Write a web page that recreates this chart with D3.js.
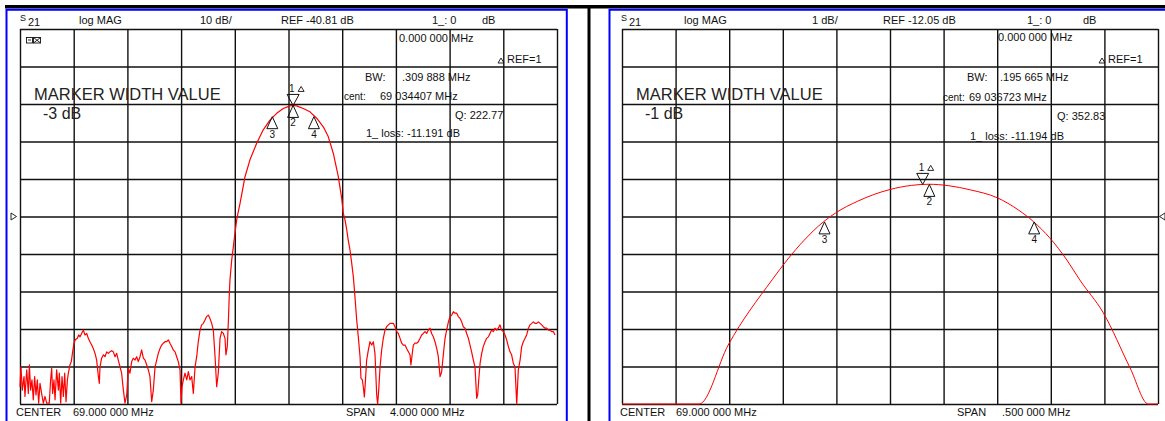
<!DOCTYPE html>
<html>
<head>
<meta charset="utf-8">
<script src="https://cdn.jsdelivr.net/npm/d3@7"></script>
<style>
  body { margin: 0; background: #fff; }
  text { font-family: "Liberation Sans", Arial, sans-serif; fill: #111; }
</style>
</head>
<body>
<div id="chart"></div>
<script>
// ---- dati ----
// pannello sinistro: S21, 10 dB/div, centro 69 MHz, span 4 MHz
const leftFreq = [
  67.000, 67.007, 67.017, 67.030, 67.037, 67.050, 67.062, 67.070, 67.079, 67.089,
  67.099, 67.109, 67.119, 67.129, 67.139, 67.149, 67.161, 67.174, 67.186, 67.199,
  67.218, 67.228, 67.236, 67.243, 67.253, 67.261, 67.273, 67.286, 67.293, 67.303,
  67.313, 67.323, 67.333, 67.343, 67.353, 67.360, 67.372, 67.382, 67.392, 67.402,
  67.412, 67.427, 67.437, 67.447, 67.459, 67.472, 67.484, 67.497, 67.509, 67.521,
  67.534, 67.546, 67.559, 67.571, 67.584, 67.591, 67.596, 67.608, 67.621, 67.633,
  67.646, 67.658, 67.670, 67.683, 67.695, 67.708, 67.720, 67.732, 67.745, 67.757,
  67.770, 67.782, 67.795, 67.807, 67.819, 67.832, 67.844, 67.857, 67.869, 67.881,
  67.894, 67.906, 67.919, 67.931, 67.944, 67.956, 67.968, 67.981, 67.993, 68.006,
  68.018, 68.030, 68.043, 68.055, 68.068, 68.080, 68.093, 68.105, 68.117, 68.130,
  68.142, 68.155, 68.167, 68.179, 68.192, 68.199, 68.207, 68.217, 68.229, 68.242,
  68.254, 68.266, 68.279, 68.291, 68.304, 68.316, 68.328, 68.341, 68.353, 68.366,
  68.378, 68.390, 68.403, 68.415, 68.428, 68.440, 68.453, 68.465, 68.477, 68.490,
  68.502, 68.515, 68.527, 68.534, 68.544, 68.552, 68.559, 68.564, 68.577, 68.589,
  68.601, 68.614, 68.626, 68.639, 68.676, 68.713, 68.763, 68.812, 68.862, 68.912,
  68.961, 69.011, 69.034, 69.061, 69.110, 69.160, 69.210, 69.259, 69.296, 69.334,
  69.371, 69.396, 69.408, 69.421, 69.434, 69.445, 69.458, 69.471, 69.483, 69.495,
  69.508, 69.520, 69.533, 69.540, 69.550, 69.557, 69.565, 69.572, 69.582, 69.595,
  69.607, 69.620, 69.632, 69.644, 69.657, 69.664, 69.672, 69.682, 69.694, 69.706,
  69.719, 69.731, 69.744, 69.756, 69.781, 69.793, 69.806, 69.818, 69.831, 69.843,
  69.855, 69.868, 69.880, 69.893, 69.905, 69.912, 69.925, 69.930, 69.942, 69.955,
  69.967, 69.980, 69.992, 70.004, 70.017, 70.029, 70.042, 70.054, 70.066, 70.079,
  70.091, 70.104, 70.116, 70.129, 70.141, 70.153, 70.166, 70.178, 70.191, 70.203,
  70.216, 70.228, 70.240, 70.253, 70.265, 70.278, 70.290, 70.302, 70.315, 70.327,
  70.340, 70.352, 70.364, 70.377, 70.389, 70.402, 70.409, 70.417, 70.427, 70.439,
  70.451, 70.464, 70.476, 70.489, 70.501, 70.513, 70.526, 70.538, 70.551, 70.563,
  70.575, 70.588, 70.600, 70.613, 70.625, 70.638, 70.650, 70.662, 70.675, 70.687,
  70.700, 70.712, 70.725, 70.737, 70.749, 70.762, 70.774, 70.787, 70.799, 70.812,
  70.824, 70.836, 70.849, 70.861, 70.874, 70.886, 70.898, 70.911, 70.923, 70.936,
  70.948, 70.960, 70.973, 70.985
];
const leftDb = [
  -86.2, -80.9, -87.1, -83.5, -88.8, -81.7, -88.0, -80.4, -87.1, -84.4,
  -89.7, -83.5, -88.4, -84.4, -90.6, -85.3, -88.0, -90.6, -88.8, -90.6,
  -90.6, -84.4, -81.3, -88.0, -84.4, -89.7, -81.7, -87.1, -82.6, -90.6,
  -83.5, -88.8, -82.6, -90.2, -84.4, -82.6, -80.4, -79.5, -76.9, -74.6,
  -73.7, -73.3, -72.4, -72.9, -72.0, -71.1, -72.4, -72.0, -73.3, -74.2,
  -75.1, -76.0, -77.3, -79.1, -83.5, -85.3, -80.9, -78.6, -77.7, -78.2,
  -76.9, -77.3, -76.9, -76.6, -76.9, -78.2, -77.3, -79.1, -80.9, -82.6,
  -87.1, -90.6, -88.4, -81.3, -82.6, -79.5, -78.6, -79.1, -78.2, -79.5,
  -78.2, -76.4, -78.6, -79.1, -80.4, -81.7, -83.5, -90.2, -87.1, -80.9,
  -79.1, -77.3, -76.0, -75.1, -74.6, -74.2, -74.2, -73.7, -74.6, -75.5,
  -76.4, -76.9, -78.2, -79.5, -81.7, -90.6, -86.2, -84.4, -82.6, -84.4,
  -82.2, -84.4, -83.5, -88.0, -80.9, -78.2, -74.2, -71.1, -69.7, -69.3,
  -68.4, -67.5, -67.1, -68.0, -69.3, -71.1, -78.2, -86.2, -82.6, -73.3,
  -71.5, -72.0, -73.3, -77.7, -75.5, -68.9, -61.7, -57.7, -52.4, -48.9,
  -45.3, -41.7, -39.5, -37.3, -30.2, -25.7, -21.3, -17.7, -15.1, -13.3,
  -12.0, -11.3, -11.19, -11.3, -12.0, -12.9, -14.6, -16.9, -19.5, -24.0,
  -30.2, -35.9, -40.0, -41.7, -44.4, -47.1, -49.7, -53.3, -56.9, -62.2,
  -68.4, -72.9, -78.2, -84.0, -84.4, -86.2, -88.9, -85.3, -79.1, -76.4,
  -74.2, -75.1, -74.2, -77.3, -88.4, -91.1, -87.1, -80.9, -76.4, -73.3,
  -71.1, -70.2, -69.7, -69.3, -69.3, -70.2, -71.5, -72.0, -73.3, -74.6,
  -75.1, -75.1, -76.0, -76.9, -77.7, -80.4, -76.4, -75.1, -74.6, -74.6,
  -74.2, -73.3, -72.4, -72.0, -71.5, -72.0, -71.1, -70.6, -72.0, -72.9,
  -74.2, -76.0, -78.2, -83.5, -82.2, -77.7, -73.3, -71.1, -68.9, -67.5,
  -67.1, -66.2, -66.6, -66.6, -67.5, -68.0, -68.9, -70.2, -70.6, -72.0,
  -73.3, -75.1, -76.9, -79.1, -80.9, -89.3, -88.4, -84.4, -80.0, -77.3,
  -75.5, -74.2, -73.3, -72.9, -72.0, -71.1, -71.5, -70.6, -71.1, -70.6,
  -69.7, -71.1, -71.5, -72.4, -73.7, -75.5, -76.9, -77.7, -80.0, -80.9,
  -91.1, -81.7, -79.1, -75.5, -74.2, -73.3, -72.4, -70.6, -69.7, -69.3,
  -68.9, -69.3, -69.3, -68.9, -69.3, -69.7, -70.2, -70.6, -70.6, -71.1,
  -71.1, -71.5, -71.5, -72.4
];

// pannello destro: S21, 1 dB/div, centro 69 MHz, span 0.5 MHz
const rightFreq = [68.750, 68.800, 68.822, 68.849, 68.890, 68.904, 68.920, 68.938, 68.949, 68.970,
  69.000, 69.020, 69.036, 69.055, 69.075, 69.100, 69.120, 69.134, 69.149, 69.165, 69.177,
  69.199, 69.224, 69.241, 69.250];
const rightDb = [-17.6, -17.3, -17.05, -15.48, -13.74, -13.21, -12.68, -12.19, -11.96, -11.64,
  -11.33, -11.22, -11.19, -11.23, -11.34, -11.55, -11.88, -12.19, -12.62, -13.21, -13.74,
  -14.62, -16.09, -17.05, -17.4];

// marker: [numero, freq MHz, dB, direzione]
const leftMarkers = [[1, 69.0344, -11.191, 'down'], [2, 69.0344, -11.191, 'up'],
  [3, 68.8794, -14.191, 'up'], [4, 69.1893, -14.191, 'up']];
const rightMarkers = [[1, 69.0305, -11.194, 'down'], [2, 69.0367, -11.194, 'up'],
  [3, 68.9389, -12.194, 'up'], [4, 69.1345, -12.194, 'up']];

// testi
const leftHeader = ['log MAG', '10 dB/', 'REF -40.81 dB', '1_: 0', 'dB'];
const rightHeader = ['log MAG', '1 dB/', 'REF -12.05 dB', '1_: 0', 'dB'];
const leftInfo = ['0.000 000 MHz', 'REF=1', 'BW:', '.309 888 MHz', 'cent:', '69 034407 MHz', 'Q: 222.77', '1_ loss: -11.191 dB'];
const rightInfo = ['0.000 000 MHz', 'REF=1', 'BW:', '.195 665 MHz', 'cent:', '69 036723 MHz', 'Q: 352.83', '1_ loss: -11.194 dB'];
const leftFooter = ['CENTER', '69.000 000 MHz', 'SPAN', '4.000 000 MHz'];
const rightFooter = ['CENTER', '69.000 000 MHz', 'SPAN', '.500 000 MHz'];
const leftWidth = '-3 dB';
const rightWidth = '-1 dB';

const W = 1165, H = 421;
const svg = d3.select('#chart').append('svg')
    .attr('width', W)
    .attr('height', H);

// cornice: banda nera in alto, divisore centrale, bordi blu
svg.append('rect').attr('x', 5).attr('y', 5).attr('width', W - 5).attr('height', 3.5).attr('fill', '#000');
svg.append('rect').attr('x', 587.5).attr('y', 5).attr('width', 3).attr('height', H - 5).attr('fill', '#000');
svg.append('path').attr('d', `M6.5,${H} V9.8 H566.8 V${H}`)
    .attr('fill', 'none').attr('stroke', '#0000ff').attr('stroke-width', 2);
svg.append('path').attr('d', `M609.5,${H} V9.8 H${W}`)
    .attr('fill', 'none').attr('stroke', '#0000ff').attr('stroke-width', 2);

function drawPanel(p) {
    const x = d3.scaleLinear().domain(p.fDomain).range([p.x0, p.x1]);
    const y = d3.scaleLinear().domain(p.dbDomain).range([404, 29]).clamp(true);
    const g = svg.append('g');

    // griglia 10x10 tramite assi
    const fStep = (p.fDomain[1] - p.fDomain[0]) / 10;
    const dbStep = (p.dbDomain[1] - p.dbDomain[0]) / 10;
    g.append('g')
        .attr('transform', 'translate(0,404)')
        .call(d3.axisBottom(x).tickValues(d3.range(11).map(i => p.fDomain[0] + i * fStep))
            .tickSize(-375).tickFormat(''))
        .call(a => a.select('.domain').remove())
        .call(a => a.selectAll('line').attr('stroke', '#111').attr('stroke-width', 1.4));
    g.append('g')
        .attr('transform', `translate(${p.x0},0)`)
        .call(d3.axisLeft(y).tickValues(d3.range(11).map(i => p.dbDomain[0] + i * dbStep))
            .tickSize(-(p.x1 - p.x0)).tickFormat(''))
        .call(a => a.select('.domain').remove())
        .call(a => a.selectAll('line').attr('stroke', '#111').attr('stroke-width', 1.4));

    // intestazione
    const hx = p.headerX;
    g.append('text').attr('x', hx[0]).attr('y', 21).style('font-size', '9px').text('S');
    g.append('text').attr('x', hx[0] + 8).attr('y', 26).style('font-size', '11px').text('21');
    p.header.forEach((t, i) => {
        g.append('text').attr('x', hx[i + 1]).attr('y', 23.5).style('font-size', '11px').text(t);
    });

    // informazioni marker
    p.info.forEach((t, i) => {
        g.append('text').attr('x', p.infoPos[i][0]).attr('y', p.infoPos[i][1])
            .style('font-size', t === 'cent:' ? '10px' : '11px').text(t);
    });
    const rx = p.infoPos[1][0] - 9, ry = p.infoPos[1][1];
    g.append('path').attr('d', `M${rx},${ry} l3,-5 l3,5 Z`)
        .attr('fill', 'none').attr('stroke', '#111').attr('stroke-width', 0.9);

    g.append('text').attr('x', p.mwX).attr('y', 100)
        .style('font-size', '16.5px').style('fill', '#222').text('MARKER WIDTH VALUE');
    g.append('text').attr('x', p.mwX + 9).attr('y', 118.5)
        .style('font-size', '16px').style('fill', '#222').text(p.widthLabel);

    // piede
    p.footer.forEach((t, i) => {
        g.append('text').attr('x', p.footerX[i]).attr('y', 416).style('font-size', '11px').text(t);
    });

    // traccia
    const pts = p.freq.map((f, i) => [f, p.db[i]]);
    const line = d3.line().x(d => x(d[0])).y(d => y(d[1]));
    if (p.smooth) line.curve(d3.curveMonotoneX);
    g.append('path').datum(pts)
        .attr('d', line)
        .attr('fill', 'none')
        .attr('stroke', '#ff0000')
        .attr('stroke-width', p.smooth ? 1 : 1.2)
        .attr('stroke-linejoin', 'round');

    // marker triangolari
    p.markers.forEach(m => {
        const mx = x(m[1]), my = y(m[2]);
        if (m[3] === 'down') {
            g.append('path').attr('d', `M${mx},${my} l-6,-11 h12 Z`)
                .attr('fill', 'none').attr('stroke', '#111').attr('stroke-width', 1);
            g.append('text').attr('x', mx - 4).attr('y', my - 13).style('font-size', '10px').text(m[0]);
            g.append('path').attr('d', `M${mx + 5},${my - 14} l3,-5 l3,5 Z`)
                .attr('fill', 'none').attr('stroke', '#111').attr('stroke-width', 0.9);
        } else {
            g.append('path').attr('d', `M${mx},${my} l-5.5,12 h11 Z`)
                .attr('fill', 'none').attr('stroke', '#111').attr('stroke-width', 1);
            g.append('text').attr('x', mx).attr('y', my + 21).attr('text-anchor', 'middle')
                .style('font-size', '10px').text(m[0]);
        }
    });

    // indicatore di riferimento sul bordo
    const ry2 = y((p.dbDomain[0] + p.dbDomain[1]) / 2);
    const tri = p.refSide === 'left'
        ? `M11,${ry2 - 3.5} l5.5,3.5 l-5.5,3.5 Z`
        : `M1165,${ry2 - 3.5} l-5.5,3.5 l5.5,3.5 Z`;
    g.append('path').attr('d', tri).attr('fill', 'none').attr('stroke', '#111').attr('stroke-width', 0.9);
}

drawPanel({
    x0: 20, x1: 557,
    fDomain: [67, 71], dbDomain: [-90.81, 9.19],
    freq: leftFreq, db: leftDb, smooth: false,
    markers: leftMarkers,
    header: leftHeader, headerX: [20, 79, 200, 281, 432, 482],
    info: leftInfo,
    infoPos: [[399, 41.5], [507, 63], [365, 80.5], [402, 80.5], [344, 100], [380, 100], [455, 119], [366, 137]],
    mwX: 34, widthLabel: leftWidth,
    footer: leftFooter, footerX: [16, 73, 346, 390],
    refSide: 'left'
});

drawPanel({
    x0: 622, x1: 1158,
    fDomain: [68.75, 69.25], dbDomain: [-17.05, -7.05],
    freq: rightFreq, db: rightDb, smooth: true,
    markers: rightMarkers,
    header: rightHeader, headerX: [621, 684, 812, 883, 1027, 1083],
    info: rightInfo,
    infoPos: [[998, 41], [1108, 63], [967, 81], [1000, 81], [943, 100.5], [969, 100.5], [1057, 120], [970, 140]],
    mwX: 636, widthLabel: rightWidth,
    footer: rightFooter, footerX: [620, 676, 957, 1002],
    refSide: 'right'
});

// icona piccola in alto a sinistra
const icon = svg.append('g').attr('stroke', '#111').attr('fill', 'none').attr('stroke-width', 0.9);
icon.append('rect').attr('x', 26.5).attr('y', 37.5).attr('width', 6).attr('height', 5.5);
icon.append('rect').attr('x', 33.5).attr('y', 37.5).attr('width', 7).attr('height', 5.5);
icon.append('path').attr('d', 'M33.5,37.5 l7,5.5 M40.5,37.5 l-7,5.5 M28,40 h3');
</script>
</body>
</html>
